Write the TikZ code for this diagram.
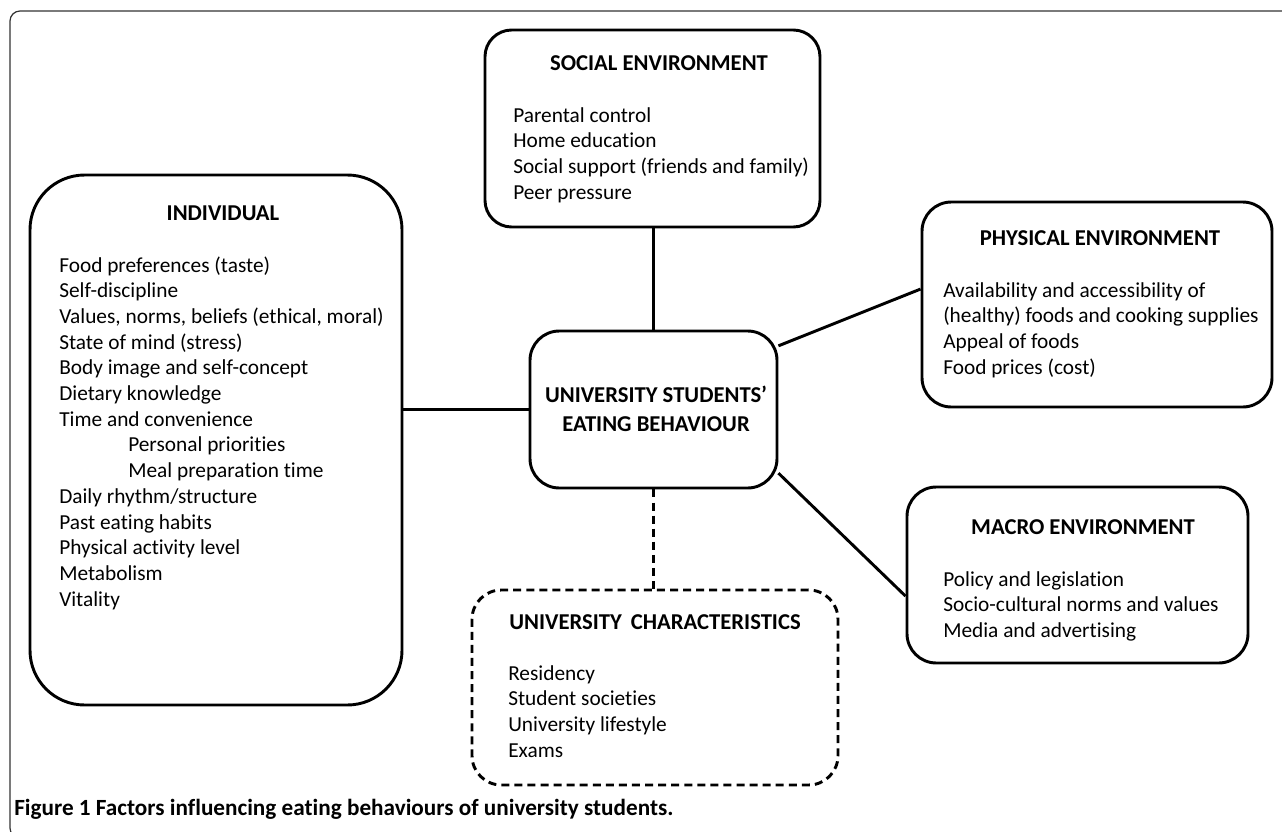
\documentclass[tikz,border=0pt]{standalone}
\usepackage{fontspec}
\setmainfont[Ligatures=NoCommon]{Carlito}
\usetikzlibrary{fit}

\begin{document}
\begin{tikzpicture}[x=0.75pt, y=-0.75pt,
    box/.style={draw, line width=2.2pt, rounded corners=22pt, inner sep=0pt},
    dashbox/.style={box, dash pattern=on 6pt off 3.8pt},
    title/.style={font=\fontsize{17}{20}\selectfont\bfseries, anchor=base, inner sep=0pt},
    item/.style={font=\fontsize{16}{19}\selectfont, anchor=base west, inner sep=0pt},
    link/.style={line width=2.2pt}]
    \clip (0,0) rectangle (1282,832);
    % outer frame
    \draw[line width=0.9pt, black!80, rounded corners=7.5pt] (1300,11) -- (10,11) -- (10,838) -- (60,838);
    % boxes
    \node[box, rounded corners=41pt, fit={(30,175) (402,705)}] (I) {};
    \node[box, fit={(530,331) (777,488)}] (C) {};
    \node[box, rounded corners=20pt, fit={(485,30) (820,227)}] (S) {};
    \node[box, fit={(922,202) (1272,407)}] (P) {};
    \node[box, fit={(907,487) (1248,663)}] (M) {};
    \node[dashbox, fit={(472,590) (838,785)}] (U) {};
    % titles
    \node[title] (Ct1) at (656,402) {UNIVERSITY STUDENTS’};
    \node[title] (Ct2) at (656,431) {EATING BEHAVIOUR};
    \node[title] (It) at (223,220) {INDIVIDUAL};
    \node[title] (St) at (659,70) {SOCIAL ENVIRONMENT};
    \node[title] (Pt) at (1100,245) {PHYSICAL ENVIRONMENT};
    \node[title] (Mt) at (1083,534) {MACRO ENVIRONMENT};
    \node[title] (Ut) at (655,629) {UNIVERSITY\, CHARACTERISTICS};
    % individual
    \foreach \t [count=\i from 0] in {Food preferences (taste), Self-discipline,
        {Values, norms, beliefs (ethical, moral)}, State of mind (stress),
        Body image and self-concept, Dietary knowledge, Time and convenience}
        \node[item] (ind\i) at (59,272+25.7*\i) {\t};
    \node[item] (ind7) at (128,272+25.7*7) {Personal priorities};
    \node[item] (ind8) at (128,272+25.7*8) {Meal preparation time};
    \foreach \t [count=\i from 9] in {Daily rhythm/structure, Past eating habits,
        Physical activity level, Metabolism, Vitality}
        \node[item] (ind\i) at (59,272+25.7*\i) {\t};
    % social
    \foreach \t [count=\i from 0] in {Parental control, Home education,
        Social support (friends and family), Peer pressure}
        \node[item] (soc\i) at (513,122+25.7*\i) {\t};
    % physical
    \foreach \t [count=\i from 0] in {Availability and accessibility of,
        {(healthy) foods and cooking supplies}, Appeal of foods, Food prices (cost)}
        \node[item] (phy\i) at (943,297+25.7*\i) {\t};
    % macro
    \foreach \t [count=\i from 0] in {Policy and legislation,
        Socio-cultural norms and values, Media and advertising}
        \node[item] (mac\i) at (943,586+25.5*\i) {\t};
    % university
    \foreach \t [count=\i from 0] in {Residency, Student societies,
        University lifestyle, Exams}
        \node[item] (uni\i) at (508,680+25.7*\i) {\t};
    % caption
    \node[anchor=base west, inner sep=0pt, font=\fontsize{17.4}{20}\selectfont\bfseries] (cap) at (14,815)
        {Figure 1 Factors influencing eating behaviours of university students.};
    % connectors
    \draw[link] (C.west) -- (C.west -| I.east);
    \draw[link] (C.north) -- (C.north |- S.south);
    \draw[link] (C.27) -- (P.175);
    \draw[link] (C.-27) -- (M.187);
    \draw[link, dash pattern=on 6pt off 3.8pt] (C.south) -- (C.south |- U.north);
\end{tikzpicture}
\end{document}
